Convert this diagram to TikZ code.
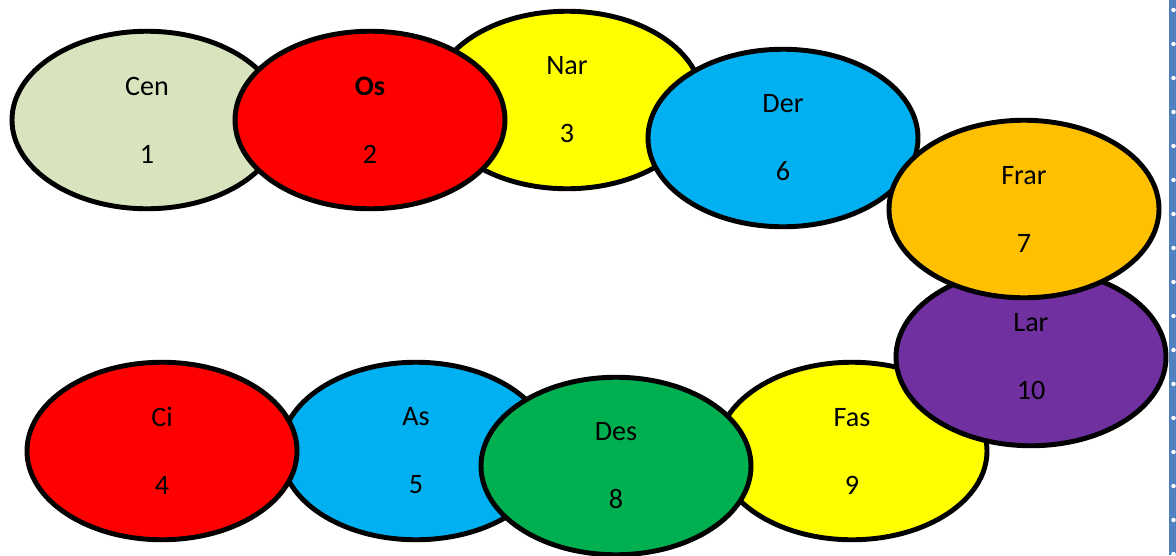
\documentclass[tikz,border=0pt]{standalone}
\usepackage{fontspec}
\setmainfont{Carlito}
\usetikzlibrary{shapes.geometric}

\definecolor{cengreen}{HTML}{D7E4BD}
\definecolor{osred}{HTML}{FF0000}
\definecolor{naryellow}{HTML}{FFFF00}
\definecolor{derblue}{HTML}{00B0F0}
\definecolor{frarorange}{HTML}{FFC000}
\definecolor{larpurple}{HTML}{7030A0}
\definecolor{desgreen}{HTML}{00B050}
\definecolor{pageborder}{HTML}{4F81BD}

\begin{document}
\begin{tikzpicture}[
    blob/.style = {ellipse, draw = black, line width = 2.8pt, minimum width = 5.4cm,
                   minimum height = 3.55cm, align = center, inner sep = 0pt,
                   font = \fontsize{16}{19}\selectfont}
  ]
    \useasboundingbox (0, 0) rectangle (23.52, -11.1);
    % upper row
    \node[blob, fill = cengreen] (cen) at (2.94, -2.40) {Cen \\[19.7pt] 1};
    \node[blob, fill = naryellow] (nar) at (11.34, -2.00) {Nar \\[19.7pt] 3};
    \node[blob, fill = osred] (os) at (7.40, -2.40) {\bfseries Os \\[19.7pt] 2};
    \node[blob, fill = derblue] (der) at (15.66, -2.76) {Der \\[19.7pt] 6};
    % lower row
    \node[blob, fill = derblue] (as) at (8.32, -9.02) {As \\[19.7pt] 5};
    \node[blob, fill = osred] (ci) at (3.24, -9.02) {Ci \\[19.7pt] 4};
    \node[blob, fill = naryellow] (fas) at (17.04, -9.02) {Fas \\[19.7pt] 9};
    \node[blob, fill = desgreen] (des) at (12.32, -9.32) {Des \\[19.7pt] 8};
    % right turn
    \node[blob, fill = larpurple] (lar) at (20.62, -7.14) {Lar \\[19.7pt] 10};
    \node[blob, fill = frarorange] (frar) at (20.48, -4.18) {Frar \\[19.7pt] 7};
    % page border
    \fill[pageborder] (23.38, 0) rectangle (23.52, -11.1);
    \foreach \k in {0, ..., 16}
      \fill[white] (23.47, -0.2 - 0.68 * \k) circle (0.045);
  \end{tikzpicture}
\end{document}
